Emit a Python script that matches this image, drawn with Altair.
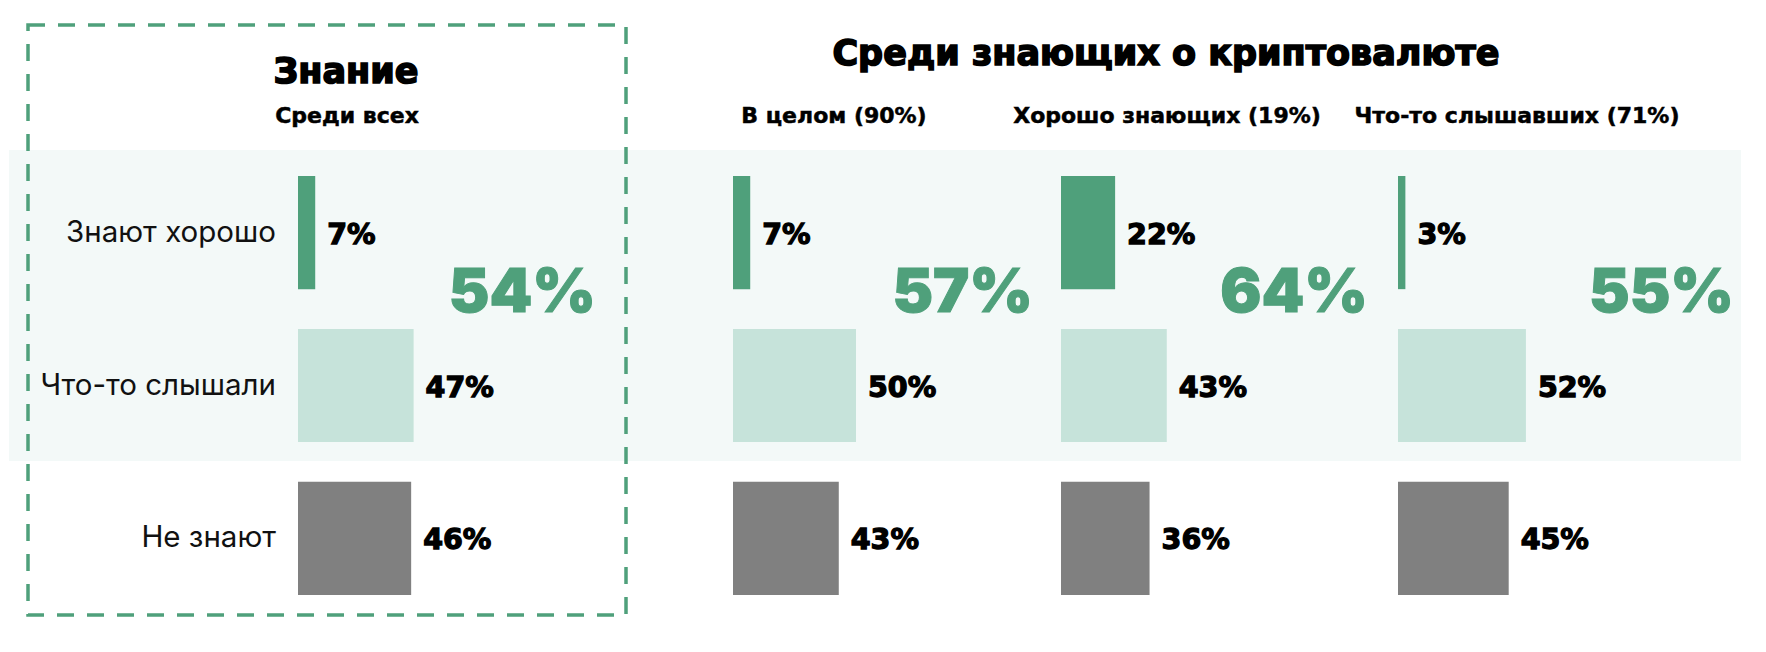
import altair as alt
import pandas as pd

# ---------------- data ----------------
categories = ["Знают хорошо", "Что-то слышали", "Не знают"]
panel_names = ["Среди всех", "В целом (90%)", "Хорошо знающих (19%)", "Что-то слышавших (71%)"]
values_all = [7, 47, 46]
values_total = [7, 50, 43]
values_good = [22, 43, 36]
values_heard = [3, 52, 45]
aware_totals = [54, 57, 64, 55]
title_left = "Знание"
title_right = "Среди знающих о криптовалюте"

# ---------------- layout (pixels) ----------------
W, H = 1766, 652
PX_PER_PCT = 2.46
panel_start_px = [298, 733, 1061, 1398]
panel_header_px = [347, 834, 1167, 1517]
big_label_right_px = [596, 1033, 1368, 1734]

GREEN = "#4FA07B"
LIGHT = "#C6E3DA"
GRAY = "#808080"
BAND = "#F3F9F8"
FONT_WIDE = "DejaVu Sans"
FONT_BIG = "Inter"
FONT_R = "Inter"

def u(px):
    return px / PX_PER_PCT

series = [values_all, values_total, values_good, values_heard]
rows = []
for p, vals in enumerate(series):
    for c, v in zip(categories, vals):
        rows.append({
            "panel": panel_names[p],
            "category": c,
            "value": v,
            "start": u(panel_start_px[p]),
            "end": u(panel_start_px[p]) + v,
            "label": f"{v}%",
        })
bars_df = pd.DataFrame(rows)

headers_df = pd.DataFrame({"name": panel_names, "x": [u(x) for x in panel_header_px]})
big_df = pd.DataFrame({"text": [f"{t}%" for t in aware_totals], "x": [u(x) for x in big_label_right_px]})
cat_df = pd.DataFrame({"category": categories})
dummy = pd.DataFrame({"a": [0]})

xscale = alt.Scale(domain=[0, u(W)], range=[0, W], nice=False, zero=False)
yscale = alt.Scale(domain=categories, range=[176, 595], paddingInner=0.26, paddingOuter=0)

band = alt.Chart(dummy).mark_rect(color=BAND).encode(
    x=alt.value(9), x2=alt.value(1741), y=alt.value(150), y2=alt.value(461)
)

box = alt.Chart(dummy).mark_rect(
    fillOpacity=0, stroke=GREEN, strokeWidth=3.5, strokeDash=[17, 13]
).encode(x=alt.value(28), x2=alt.value(626), y=alt.value(25), y2=alt.value(615))

bars = alt.Chart(bars_df).mark_rect().encode(
    x=alt.X("start:Q", scale=xscale, axis=None),
    x2="end:Q",
    y=alt.Y("category:N", scale=yscale, sort=categories, axis=None),
    color=alt.Color("category:N", scale=alt.Scale(domain=categories, range=[GREEN, LIGHT, GRAY]), legend=None),
)

value_labels = alt.Chart(bars_df).mark_text(
    align="left", baseline="middle", dx=12, dy=2, font=FONT_WIDE, fontWeight="bold", fontSize=28.5,
    color="#000000", stroke="#000000", strokeWidth=1.3,
).encode(
    x=alt.X("end:Q", scale=xscale, axis=None),
    y=alt.Y("category:N", scale=yscale, sort=categories, axis=None),
    text="label:N",
)

cat_labels = alt.Chart(cat_df).mark_text(
    align="right", baseline="middle", font=FONT_R, fontSize=29.5, color="#111111"
).encode(
    x=alt.value(276),
    y=alt.Y("category:N", scale=yscale, sort=categories, axis=None),
    text="category:N",
)

headers = alt.Chart(headers_df).mark_text(
    align="center", baseline="alphabetic", font=FONT_WIDE, fontWeight="bold", fontSize=22,
    color="#000000", stroke="#000000", strokeWidth=0.5,
).encode(
    x=alt.X("x:Q", scale=xscale, axis=None),
    y=alt.value(123),
    text="name:N",
)

big = alt.Chart(big_df).mark_text(
    align="right", baseline="alphabetic", font=FONT_BIG, fontWeight=900, fontSize=61,
    color=GREEN, stroke=GREEN, strokeWidth=1,
).encode(
    x=alt.X("x:Q", scale=xscale, axis=None),
    y=alt.value(312),
    text="text:N",
)

t_left = alt.Chart(dummy).mark_text(
    align="center", baseline="alphabetic", font=FONT_WIDE, fontWeight="bold", fontSize=35,
    color="#000000", stroke="#000000", strokeWidth=1.6, text=title_left,
).encode(x=alt.value(346), y=alt.value(83))

t_right = alt.Chart(dummy).mark_text(
    align="center", baseline="alphabetic", font=FONT_WIDE, fontWeight="bold", fontSize=35,
    color="#000000", stroke="#000000", strokeWidth=1.6, text=title_right,
).encode(x=alt.value(1166), y=alt.value(65))

chart = alt.layer(band, box, bars, value_labels, cat_labels, headers, big, t_left, t_right).properties(
    width=W, height=H, autosize=alt.AutoSizeParams(type="none"), padding=0, background="#FFFFFF"
).configure_view(stroke=None)

chart.save("out.html", embed_options={"renderer": "svg", "actions": False})
